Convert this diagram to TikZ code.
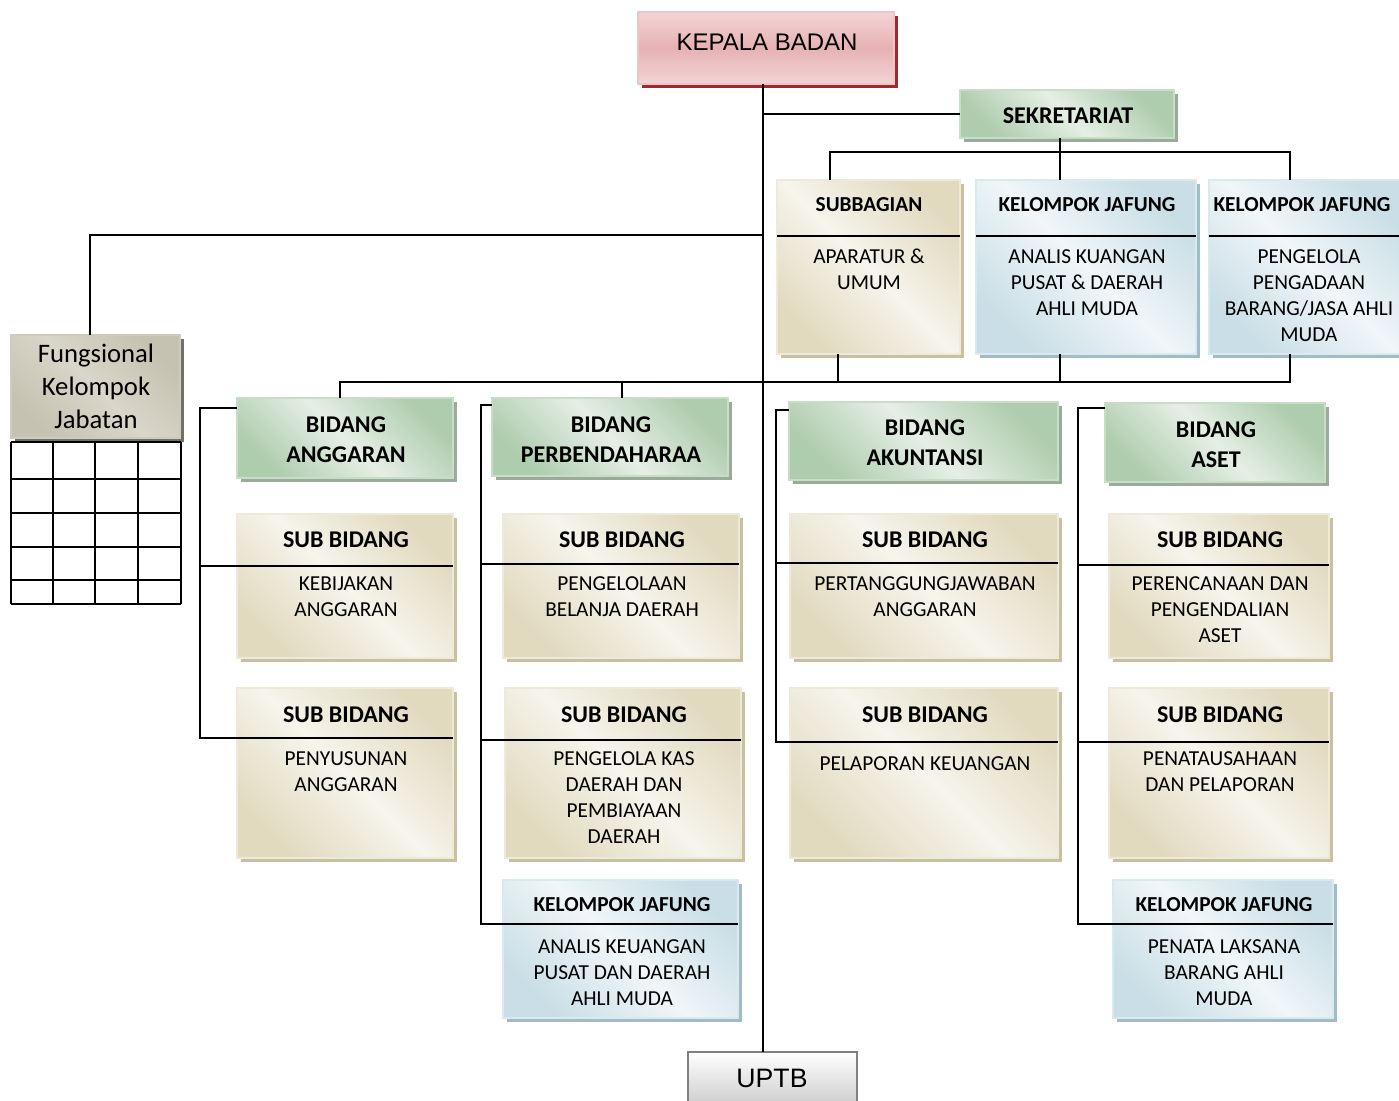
\documentclass[tikz,border=0pt]{standalone}
\usepackage{fontspec}
\setmainfont{Carlito}
\newfontfamily\arialf{Liberation Sans}
\usetikzlibrary{shadows}
\definecolor{bgL}{HTML}{F6F4EC}\definecolor{bgD}{HTML}{E2DABF}\definecolor{bgS}{HTML}{C9C09F}\definecolor{bgB}{HTML}{EEEADB}
\definecolor{grL}{HTML}{E6EFE5}\definecolor{grD}{HTML}{AECCAE}\definecolor{grS}{HTML}{9AAB99}\definecolor{grB}{HTML}{C8DDC7}
\definecolor{blL}{HTML}{F0F6F9}\definecolor{blD}{HTML}{C9DEE6}\definecolor{blS}{HTML}{A0BCC7}\definecolor{blB}{HTML}{DAE9EE}
\definecolor{pkL}{HTML}{F3D4D5}\definecolor{pkD}{HTML}{E6B1B3}\definecolor{pkS}{HTML}{9E2A2E}\definecolor{pkB}{HTML}{EBC6C8}
\definecolor{gyL}{HTML}{D9D6CA}\definecolor{gyD}{HTML}{C6C2B1}\definecolor{gyS}{HTML}{737165}\definecolor{gyB}{HTML}{CFCCBE}
\tikzset{
  basebox/.style={rectangle, outer sep=0pt, inner sep=0pt, line width=1.2pt},
  beigebox/.style={basebox, draw=bgB, top color=bgD, bottom color=bgD, middle color=bgL, shading angle=-45,
    drop shadow={shadow xshift=3pt, shadow yshift=-3pt, fill=bgS, opacity=1}},
  greenbox/.style={basebox, draw=grB, top color=grD, bottom color=grD, middle color=grL, shading angle=-45,
    drop shadow={shadow xshift=3pt, shadow yshift=-3pt, fill=grS, opacity=1}},
  bluebox/.style={basebox, draw=blB, top color=blD, bottom color=blD, middle color=blL, shading angle=-45,
    drop shadow={shadow xshift=3pt, shadow yshift=-3pt, fill=blS, opacity=1}},
  pinkbox/.style={basebox, draw=pkB, top color=pkL, bottom color=pkL, middle color=pkD,
    drop shadow={shadow xshift=3pt, shadow yshift=-3pt, fill=pkS, opacity=1}},
  graybox/.style={basebox, draw=gyB, top color=gyD, bottom color=gyD, middle color=gyL, shading angle=-45,
    drop shadow={shadow xshift=3pt, shadow yshift=-3pt, fill=gyS, opacity=1}},
  uptbbox/.style={basebox, draw=black!50, line width=1.6pt, top color=white, bottom color=black!25},
  conn/.style={line width=1.5pt, black},
  hdbig/.style={font=\fontsize{18}{22.5}\selectfont\bfseries, align=center, inner sep=0pt},
  hdsm/.style={font=\fontsize{16}{19.5}\selectfont\bfseries, align=center, inner sep=0pt},
  bodytxt/.style={font=\fontsize{16}{19.5}\selectfont, align=center, inner sep=0pt},
  fungtxt/.style={font=\fontsize{20}{24.75}\selectfont, align=center, inner sep=0pt},
  ariatxt/.style={font=\arialf\fontsize{18}{22}\selectfont, inner sep=0pt},
}
\newcommand\orgbox[6]{%
  \pgfmathsetmacro\bw{(#5-#3)*0.75}\pgfmathsetmacro\bh{(#6-#4)*0.75}%
  \node[#2, minimum width=\bw pt, minimum height=\bh pt, anchor=north west] (#1) at (#3,#4) {};}
\begin{document}
\begin{tikzpicture}[x=0.75pt,y=-0.75pt]
\useasboundingbox (0,0) rectangle (1399,1100);
\clip (0,0) rectangle (1399,1100);
\fill[white] (0,0) rectangle (1399,1100);
% boxes
\orgbox{kb}{pinkbox}{638}{12}{894}{84}
\orgbox{sek}{greenbox}{960}{90}{1174}{138}
\orgbox{sbg}{beigebox}{777}{180}{960}{354}
\orgbox{kj1}{bluebox}{976}{180}{1196}{354}
\orgbox{kj2}{bluebox}{1209}{180}{1412}{354}
\orgbox{fk}{graybox}{11}{335}{180}{438}
\orgbox{ba}{greenbox}{237}{398}{453}{478}
\orgbox{bp}{greenbox}{492}{398}{728}{476}
\orgbox{bak}{greenbox}{789}{402}{1058}{480}
\orgbox{bas}{greenbox}{1105}{403}{1325}{482}
\orgbox{sa1}{beigebox}{237}{514}{453}{658}
\orgbox{sa2}{beigebox}{237}{688}{453}{858}
\orgbox{sp1}{beigebox}{503}{514}{739}{658}
\orgbox{sp2}{beigebox}{505}{688}{741}{858}
\orgbox{kjp}{bluebox}{503}{880}{738}{1018}
\orgbox{sk1}{beigebox}{790}{514}{1058}{658}
\orgbox{sk2}{beigebox}{790}{688}{1058}{858}
\orgbox{ss1}{beigebox}{1109}{514}{1329}{658}
\orgbox{ss2}{beigebox}{1109}{688}{1329}{858}
\orgbox{kjs}{bluebox}{1113}{880}{1333}{1018}
\orgbox{uptb}{uptbbox}{688}{1052}{857}{1120}
% table under Fungsional
\foreach \xx in {11,53,95,138,181} \draw[conn] (\xx,442) -- (\xx,604);
\foreach \yy in {442,479,513,547,580,604} \draw[conn] (11,\yy) -- (181,\yy);
% coordinates
\coordinate (tx) at (763,0);
\coordinate (h1) at (830,152);
\coordinate (hm) at (1060,152);
\coordinate (h2) at (1290,152);
\coordinate (g1) at (340,382);
\coordinate (gp) at (622,382);
\coordinate (gs) at (838,382);
\coordinate (gk) at (1060,382);
\coordinate (g2) at (1290,382);
\coordinate (f1) at (90,235);
\coordinate (c1a) at (200,408);\coordinate (c1m) at (200,566);\coordinate (c1b) at (200,738);
\coordinate (c2a) at (481,405);\coordinate (c2m) at (481,564);\coordinate (c2n) at (481,740);\coordinate (c2b) at (481,924);
\coordinate (c3a) at (776,410);\coordinate (c3m) at (776,563);\coordinate (c3b) at (776,742);
\coordinate (c4a) at (1078,408);\coordinate (c4m) at (1078,565);\coordinate (c4n) at (1078,742);\coordinate (c4b) at (1078,924);
% connectors
\draw[conn] (kb.south -| tx) -- (uptb.north -| tx);
\draw[conn] (sek.west -| tx) -- (sek.west);
\draw[conn] (sek.south -| hm) -- (kj1.north -| hm);
\draw[conn] (sbg.north -| h1) -- (h1) -- (h2) -- (kj2.north -| h2);
\draw[conn] (ba.north -| g1) -- (g1) -- (g2) -- (kj2.south -| g2);
\draw[conn] (sbg.south -| gs) -- (gs);
\draw[conn] (kj1.south -| gk) -- (gk);
\draw[conn] (bp.north -| gp) -- (gp);
\draw[conn] (fk.north -| f1) -- (f1) -- (f1 -| tx);
% top-row dividers
\draw[conn] (sbg.west |- 0,236) -- (sbg.east |- 0,236);
\draw[conn] (kj1.west |- 0,236) -- (kj1.east |- 0,236);
\draw[conn] (kj2.west |- 0,236) -- (kj2.east |- 0,236);
% column brackets
\draw[conn] (ba.west |- c1a) -- (c1a) -- (c1b) -- (sa2.east |- c1b);
\draw[conn] (c1m) -- (sa1.east |- c1m);
\draw[conn] (bp.west |- c2a) -- (c2a) -- (c2b) -- (kjp.east |- c2b);
\draw[conn] (c2m) -- (sp1.east |- c2m);
\draw[conn] (c2n) -- (sp2.east |- c2n);
\draw[conn] (bak.west |- c3a) -- (c3a) -- (c3b) -- (sk2.east |- c3b);
\draw[conn] (c3m) -- (sk1.east |- c3m);
\draw[conn] (bas.west |- c4a) -- (c4a) -- (c4b) -- (kjs.east |- c4b);
\draw[conn] (c4m) -- (ss1.east |- c4m);
\draw[conn] (c4n) -- (ss2.east |- c4n);
% texts
\node[ariatxt] (kbt) at (767,42) {KEPALA BADAN};
\node[hdbig] (sekt) at (1068,116) {SEKRETARIAT};
\node[hdsm] (sbgh) at (869,205) {SUBBAGIAN};
\node[bodytxt] (sbgb) at (869,269.5) {APARATUR \&\\UMUM};
\node[hdsm] (kj1h) at (1087,205) {KELOMPOK JAFUNG};
\node[bodytxt] (kj1b) at (1087,282.5) {ANALIS KUANGAN\\PUSAT \& DAERAH\\AHLI MUDA};
\node[hdsm] (kj2h) at (1302,205) {KELOMPOK JAFUNG};
\node[bodytxt] (kj2b) at (1309,295.5) {PENGELOLA\\PENGADAAN\\BARANG/JASA AHLI\\MUDA};
\node[fungtxt] (fkt) at (96,386) {Fungsional\\Kelompok\\Jabatan};
\node[hdbig] (bat) at (346,440) {BIDANG\\ANGGARAN};
\node[hdbig] (bpt) at (611,440) {BIDANG\\PERBENDAHARAA};
\node[hdbig] (bakt) at (925,443) {BIDANG\\AKUNTANSI};
\node[hdbig] (bast) at (1216,445) {BIDANG\\ASET};
\node[hdbig] (sa1h) at (346,540) {SUB BIDANG};
\node[bodytxt] (sa1b) at (346,597) {KEBIJAKAN\\ANGGARAN};
\node[hdbig] (sa2h) at (346,715) {SUB BIDANG};
\node[bodytxt] (sa2b) at (346,772) {PENYUSUNAN\\ANGGARAN};
\node[hdbig] (sp1h) at (622,540) {SUB BIDANG};
\node[bodytxt] (sp1b) at (622,597) {PENGELOLAAN\\BELANJA DAERAH};
\node[hdbig] (sp2h) at (624,715) {SUB BIDANG};
\node[bodytxt] (sp2b) at (624,798) {PENGELOLA KAS\\DAERAH DAN\\PEMBIAYAAN\\DAERAH};
\node[hdsm] (kjph) at (622,905) {KELOMPOK JAFUNG};
\node[bodytxt] (kjpb) at (622,973) {ANALIS KEUANGAN\\PUSAT DAN DAERAH\\AHLI MUDA};
\node[hdbig] (sk1h) at (925,540) {SUB BIDANG};
\node[bodytxt] (sk1b) at (925,597) {PERTANGGUNGJAWABAN\\ANGGARAN};
\node[hdbig] (sk2h) at (925,715) {SUB BIDANG};
\node[bodytxt] (sk2b) at (925,764) {PELAPORAN KEUANGAN};
\node[hdbig] (ss1h) at (1220,540) {SUB BIDANG};
\node[bodytxt] (ss1b) at (1220,610) {PERENCANAAN DAN\\PENGENDALIAN\\ASET};
\node[hdbig] (ss2h) at (1220,715) {SUB BIDANG};
\node[bodytxt] (ss2b) at (1220,772) {PENATAUSAHAAN\\DAN PELAPORAN};
\node[hdsm] (kjsh) at (1224,905) {KELOMPOK JAFUNG};
\node[bodytxt] (kjsb) at (1224,973) {PENATA LAKSANA\\BARANG AHLI\\MUDA};
\node[ariatxt, font=\arialf\fontsize{20}{24}\selectfont] (uptbt) at (772,1078) {UPTB};
\end{tikzpicture}
\end{document}
